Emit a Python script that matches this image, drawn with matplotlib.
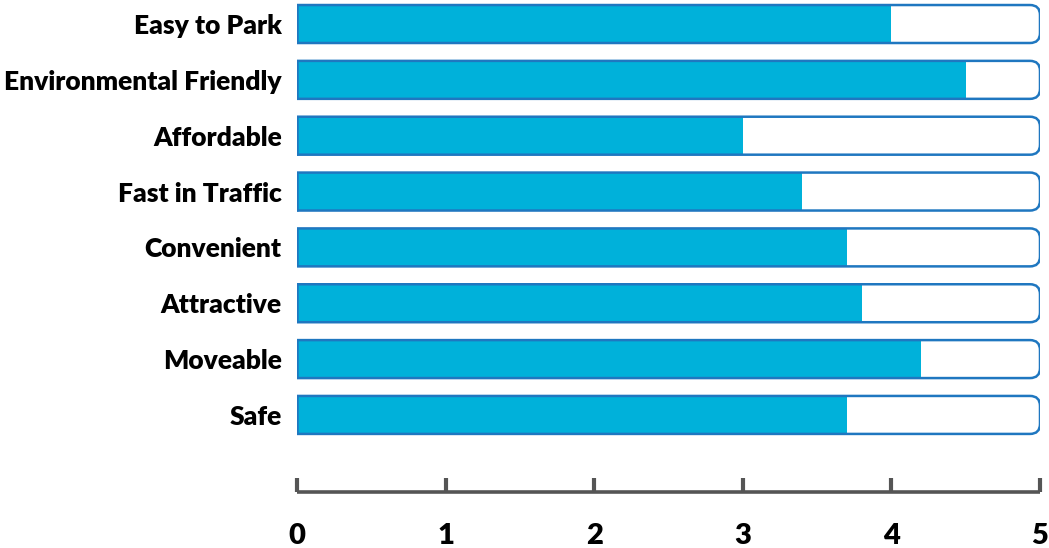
import matplotlib
matplotlib.use("Agg")
import matplotlib.pyplot as plt
from matplotlib.patches import FancyBboxPatch
import numpy as np

categories = ["Easy to Park", "Environmental Friendly", "Affordable", "Fast in Traffic",
              "Convenient", "Attractive", "Moveable", "Safe"]
scores = [4.0, 4.5, 3.0, 3.4, 3.7, 3.8, 4.2, 3.7]
max_score = 5
ticks = [0, 1, 2, 3, 4, 5]

fill_color = "#00b1da"
edge_color = "#1f77c0"
axis_color = "#555555"

plt.rcParams["font.family"] = ["Lato", "DejaVu Sans"]

fig = plt.figure(figsize=(10.49, 5.48), dpi=100)
ax = fig.add_axes([297 / 1049, 56 / 548, 743 / 1049, 492 / 548])

y = np.arange(len(categories))
h = 0.68
ax.barh(y, scores, height=h, color=fill_color, zorder=2)

# outline boxes, rounded on the right; the left side is clipped at x=0
px_x = 743 / 5.0
px_y = 55.86
r = 10 / px_x
for yi in y:
    box = FancyBboxPatch((-0.2, yi - h / 2), max_score + 0.2, h,
                         boxstyle=f"round,pad=0,rounding_size={r}",
                         mutation_aspect=px_x / px_y,
                         facecolor="none", edgecolor=edge_color, linewidth=1.8, zorder=3)
    ax.add_patch(box)
ax.vlines(np.zeros(len(y)), y - h / 2, y + h / 2, color=edge_color, linewidth=1.8, zorder=3)

ax.set_xlim(0, max_score)
ax.set_ylim(8.38, -0.43)
ax.set_yticks(y)
ax.set_yticklabels(categories, fontsize=19, fontweight="heavy")
ax.set_xticks(ticks)
ax.set_xticklabels([str(t) for t in ticks], fontsize=21, fontweight="heavy")
ax.tick_params(axis="y", length=0, pad=11)
ax.tick_params(axis="x", direction="in", length=10, width=3, color=axis_color, pad=22)

for s in ["top", "right", "left"]:
    ax.spines[s].set_visible(False)
ax.spines["bottom"].set_color(axis_color)
ax.spines["bottom"].set_linewidth(2.6)
ax.spines["bottom"].set_capstyle("butt")

fig.savefig("out.png", dpi=100)
